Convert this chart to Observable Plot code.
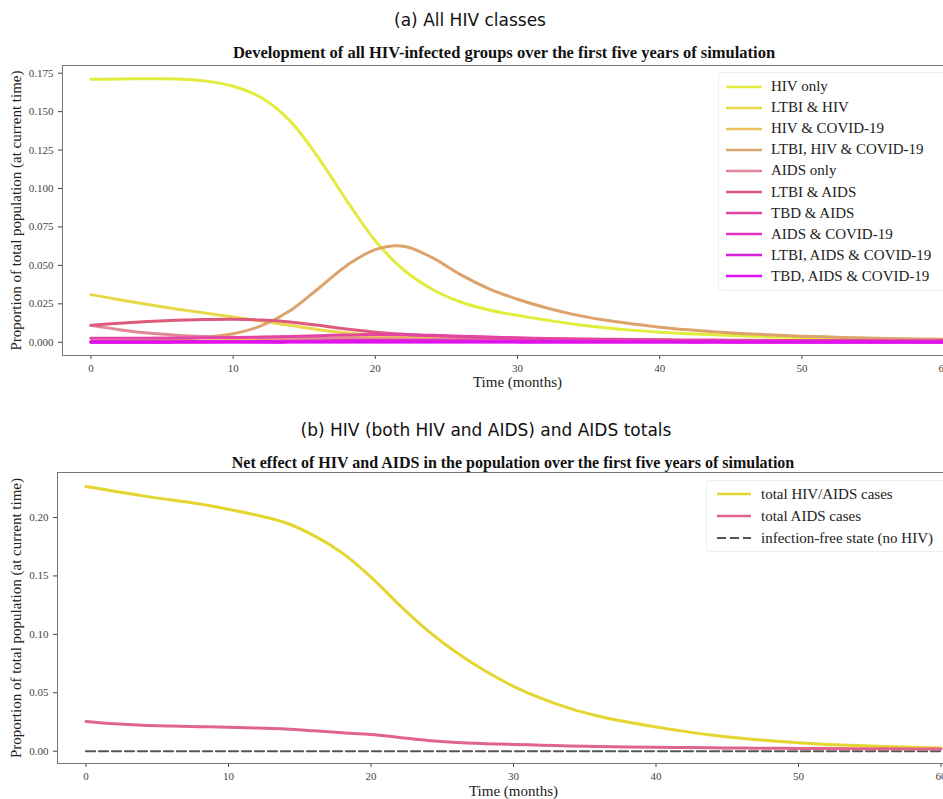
<!DOCTYPE html>
<html><head><meta charset="utf-8">
<script src="https://cdn.jsdelivr.net/npm/d3@7"></script>
<script src="https://cdn.jsdelivr.net/npm/@observablehq/plot@0.6"></script>
<style>
html,body{margin:0;padding:0;background:#fff;overflow:hidden;width:943px;height:799px}
#page{position:relative;width:943px;height:799px;overflow:hidden;background:#fff}
.sub{position:absolute;font-family:"DejaVu Sans";font-size:17px;color:#111;white-space:nowrap;transform:translate(-50%,-50%)}
.ttl{position:absolute;font-family:"Liberation Serif";font-weight:bold;font-size:16.5px;color:#111;white-space:nowrap;transform:translate(-50%,-50%)}
.chart{position:absolute;left:0;width:990px}
.chart svg{overflow:visible;max-width:none !important}
.chart svg text{font-family:"Liberation Serif"}
.chart g[aria-label="y-axis label"] text,.chart g[aria-label="x-axis label"] text{font-size:15px;fill:#222}
.legend{position:absolute;font-family:"Liberation Serif";font-size:15px;color:#222;border:1px solid #eee;border-radius:3px;background:rgba(255,255,255,0.85);white-space:nowrap}
.row{display:flex;align-items:center}
.row svg{display:block}
</style>
</head><body>
<div id="page">
  <div class="sub" style="left:470px;top:20px">(a) All HIV classes</div>
  <div class="ttl" style="left:504px;top:53px">Development of all HIV-infected groups over the first five years of simulation</div>
  <div id="chartA" class="chart" style="top:40px"></div>
  <div id="legendA" class="legend" style="left:718px;top:72px;width:240px;padding:3px 0"></div>
  <div class="sub" style="left:486px;top:430px">(b) HIV (both HIV and AIDS) and AIDS totals</div>
  <div class="ttl" style="left:513px;top:463px;font-size:16px">Net effect of HIV and AIDS in the population over the first five years of simulation</div>
  <div id="chartB" class="chart" style="top:447px"></div>
  <div id="legendB" class="legend" style="left:706px;top:480px;width:250px;padding:2px 0"></div>
</div>
<script>
// ---- data ----
const months = [0,2,4,6,8,10,12,14,16,18,20,22,24,26,28,30,32,34,36,38,40,42,44,46,48,50,52,54,56,58,60];

const seriesNamesA = ["HIV only","LTBI & HIV","HIV & COVID-19","LTBI, HIV & COVID-19","AIDS only","LTBI & AIDS","TBD & AIDS","AIDS & COVID-19","LTBI, AIDS & COVID-19","TBD, AIDS & COVID-19"];
const colorsA = ["#e2ec3c","#e8d84a","#f0c05a","#dca36c","#e2869a","#de5a7c","#e444a4","#e232c2","#d61fd6","#e010f0"];

const hivOnly      = [0.1710,0.1712,0.1714,0.1713,0.1700,0.1665,0.1590,0.1440,0.1200,0.0920,0.0660,0.0470,0.0345,0.0262,0.0210,0.0175,0.0145,0.0117,0.0096,0.0079,0.0066,0.0056,0.0048,0.0041,0.0035,0.0030,0.0026,0.0023,0.0020,0.0018,0.0016];
const ltbiHiv      = [0.0310,0.0277,0.0246,0.0217,0.0190,0.0164,0.0138,0.0110,0.0082,0.0061,0.0047,0.0038,0.0032,0.0028,0.0025,0.0022,0.0020,0.0018,0.0016,0.0014,0.0013,0.0012,0.0011,0.0010,0.0009,0.0008,0.0008,0.0007,0.0007,0.0006,0.0006];
const hivCovid     = [0.0002,0.0003,0.0004,0.0006,0.0008,0.0011,0.0015,0.0020,0.0026,0.0031,0.0034,0.0035,0.0034,0.0032,0.0029,0.0026,0.0023,0.0020,0.0018,0.0016,0.0014,0.0012,0.0011,0.0010,0.0009,0.0008,0.0007,0.0006,0.0006,0.0005,0.0005];
const ltbiHivCovid = [0.0005,0.0007,0.0011,0.0018,0.0032,0.0055,0.0108,0.0205,0.0350,0.0500,0.0603,0.0625,0.0550,0.0440,0.0348,0.0280,0.0225,0.0180,0.0146,0.0120,0.0098,0.0081,0.0067,0.0056,0.0047,0.0040,0.0034,0.0029,0.0025,0.0022,0.0019];
const aidsOnly     = [0.0110,0.0082,0.0060,0.0046,0.0037,0.0032,0.0030,0.0028,0.0026,0.0024,0.0022,0.0020,0.0018,0.0016,0.0014,0.0013,0.0012,0.0011,0.0010,0.0009,0.0008,0.0008,0.0007,0.0007,0.0006,0.0006,0.0005,0.0005,0.0005,0.0004,0.0004];
const ltbiAids     = [0.0110,0.0124,0.0135,0.0143,0.0148,0.0150,0.0145,0.0132,0.0110,0.0086,0.0066,0.0052,0.0042,0.0035,0.0029,0.0025,0.0022,0.0019,0.0017,0.0015,0.0013,0.0012,0.0011,0.0010,0.0009,0.0008,0.0008,0.0007,0.0007,0.0006,0.0006];
const tbdAids      = [0.0026,0.0026,0.0027,0.0028,0.0029,0.0031,0.0034,0.0038,0.0043,0.0047,0.0050,0.0049,0.0045,0.0040,0.0034,0.0029,0.0025,0.0022,0.0020,0.0018,0.0016,0.0015,0.0014,0.0013,0.0012,0.0012,0.0011,0.0011,0.0010,0.0010,0.0010];
const aidsCovid    = [0.0003,0.0003,0.0003,0.0004,0.0004,0.0005,0.0006,0.0007,0.0009,0.0011,0.0012,0.0012,0.0011,0.0010,0.0009,0.0008,0.0007,0.0006,0.0006,0.0005,0.0005,0.0004,0.0004,0.0004,0.0003,0.0003,0.0003,0.0003,0.0003,0.0003,0.0003];
const ltbiAidsCovid= [0.0001,0.0001,0.0001,0.0001,0.0002,0.0002,0.0002,0.0003,0.0003,0.0004,0.0004,0.0004,0.0004,0.0003,0.0003,0.0003,0.0002,0.0002,0.0002,0.0002,0.0002,0.0001,0.0001,0.0001,0.0001,0.0001,0.0001,0.0001,0.0001,0.0001,0.0001];
const tbdAidsCovid = [0.0000,0.0000,0.0000,0.0001,0.0001,0.0001,0.0001,0.0001,0.0002,0.0002,0.0002,0.0002,0.0002,0.0002,0.0002,0.0001,0.0001,0.0001,0.0001,0.0001,0.0001,0.0001,0.0001,0.0000,0.0000,0.0000,0.0000,0.0000,0.0000,0.0000,0.0000];

const seriesNamesB = ["total HIV/AIDS cases","total AIDS cases","infection-free state (no HIV)"];
const colorsB = ["#e4d62e","#e0648c","#555555"];
const hivAidsTotal = [0.2265,0.2225,0.2185,0.2150,0.2115,0.2070,0.2020,0.1955,0.1845,0.1695,0.1490,0.1250,0.1030,0.0845,0.0688,0.0555,0.0450,0.0365,0.0300,0.0250,0.0208,0.0170,0.0137,0.0111,0.0090,0.0072,0.0058,0.0048,0.0040,0.0033,0.0027];
const aidsTotal    = [0.0255,0.0235,0.0222,0.0215,0.0210,0.0205,0.0198,0.0190,0.0175,0.0158,0.0143,0.0118,0.0092,0.0075,0.0065,0.0058,0.0052,0.0045,0.0040,0.0036,0.0033,0.0031,0.0029,0.0027,0.0026,0.0024,0.0023,0.0022,0.0021,0.0020,0.0019];
const infectionFree= [0,0,0,0,0,0,0,0,0,0,0,0,0,0,0,0,0,0,0,0,0,0,0,0,0,0,0,0,0,0,0];

const xTicks  = [0,10,20,30,40,50,60];
const yTicksA = [0,0.025,0.05,0.075,0.1,0.125,0.15,0.175];
const yTicksB = [0,0.05,0.1,0.15,0.2];

// ---- build tables ----
const seriesA = [hivOnly,ltbiHiv,hivCovid,ltbiHivCovid,aidsOnly,ltbiAids,tbdAids,aidsCovid,ltbiAidsCovid,tbdAidsCovid];
const tableA = [];
seriesNamesA.forEach((name,i)=>months.forEach((t,j)=>tableA.push({series:name,t,v:seriesA[i][j]})));
const seriesB = [hivAidsTotal,aidsTotal];
const tableB = [];
seriesNamesB.slice(0,2).forEach((name,i)=>months.forEach((t,j)=>tableB.push({series:name,t,v:seriesB[i][j]})));
const tableFree = months.map((t,j)=>({t,v:infectionFree[j]}));

const yLabel = "Proportion of total population (at current time)";
const common = {
  width: 990,
  marginTop: 25, marginBottom: 45,
  style: {fontFamily: "Liberation Serif", fontSize: "11px", color: "#444", background: "transparent", overflow: "visible", maxWidth: "none"}
};

const chartA = Plot.plot({
  ...common,
  marginLeft: 62, marginRight: 18,
  height: 360,
  x: {domain: [-2, 62], ticks: xTicks, tickFormat: d => String(d), tickSize: 4, label: "Time (months)", labelArrow: false, labelAnchor: "center", labelOffset: 31},
  y: {domain: [-0.0086, 0.18], ticks: yTicksA, tickFormat: d3.format(".3f"), tickSize: 4, label: yLabel, labelArrow: false, labelAnchor: "center", labelOffset: 52},
  color: {domain: seriesNamesA, range: colorsA},
  marks: [
    Plot.frame({stroke: "#777", strokeWidth: 1}),
    Plot.lineY(tableA, {x: "t", y: "v", z: "series", stroke: "series", strokeWidth: 3, curve: "catmull-rom"})
  ]
});
document.getElementById("chartA").appendChild(chartA);

const chartB = Plot.plot({
  ...common,
  marginLeft: 57, marginRight: 21,
  height: 361,
  x: {domain: [-2, 62], ticks: xTicks, tickFormat: d => String(d), tickSize: 4, label: "Time (months)", labelArrow: false, labelAnchor: "center", labelOffset: 32},
  y: {domain: [-0.0105, 0.2385], ticks: yTicksB, tickFormat: d3.format(".2f"), tickSize: 4, label: yLabel, labelArrow: false, labelAnchor: "center", labelOffset: 47},
  color: {domain: seriesNamesB, range: colorsB},
  marks: [
    Plot.frame({stroke: "#777", strokeWidth: 1}),
    Plot.lineY(tableFree, {x: "t", y: "v", stroke: colorsB[2], strokeWidth: 2.2, strokeDasharray: "9,4"}),
    Plot.lineY(tableB, {x: "t", y: "v", z: "series", stroke: "series", strokeWidth: 3, curve: "catmull-rom"})
  ]
});
document.getElementById("chartB").appendChild(chartB);

// ---- legends ----
function legend(el, names, colors, rowH, swLeft, swW, gap, dashedIdx) {
  names.forEach((n,i)=>{
    const row = document.createElement("div");
    row.className = "row";
    row.style.height = rowH + "px";
    const dash = i === dashedIdx ? 'stroke-dasharray="9,4"' : '';
    row.innerHTML = `<svg width="${swW}" height="6" style="margin-left:${swLeft}px;margin-right:${gap}px"><line x1="0" y1="3" x2="${swW}" y2="3" stroke="${colors[i]}" stroke-width="${i===dashedIdx?2:2.5}" ${dash}/></svg><span>${n}</span>`;
    el.appendChild(row);
  });
}
legend(document.getElementById("legendA"), seriesNamesA, colorsA, 21.1, 7, 36, 9, -1);
legend(document.getElementById("legendB"), seriesNamesB, colorsB, 22, 10, 34, 10, 2);
</script>
</body></html>
